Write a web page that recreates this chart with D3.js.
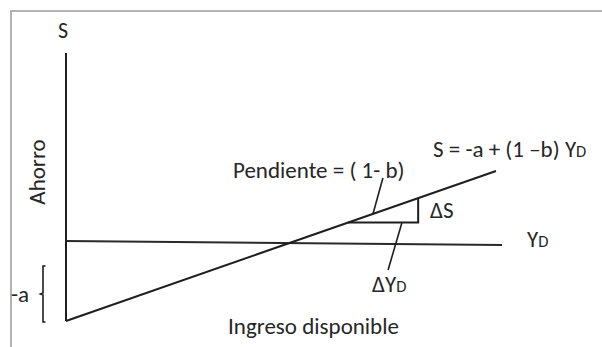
<!DOCTYPE html>
<html>
<head>
<meta charset="utf-8">
<script src="https://cdn.jsdelivr.net/npm/d3@7"></script>
<style>
  html, body { margin: 0; padding: 0; background: #fff; }
  svg { display: block; }
  text { font-family: Carlito, Lato, "Open Sans", sans-serif; fill: #262626; }
</style>
</head>
<body>
<svg id="chart" width="602" height="347"></svg>
<script>
// ---- data (economic units) ----
const incomeDomain = [0, 10];
const savingDomain = [-2, 4.7];
const interceptA = -2;          // -a
const slope = 0.375;            // (1 - b)
const savingLineX = [0, 10];    // S = -a + (1-b) YD
const zeroLinePts = [[0, 0], [10.14, -0.1]];
const triangleX = [6.56, 8.19];
const pendientePointer = [[7.14, 0.68], [7.37, 1.575]];
const deltaYPointer = [[7.81, 0.45], [7.49, -0.725]];
const labels = {
  yAxis: "S",
  yTitle: "Ahorro",
  xTitle: "Ingreso disponible",
  minusA: "-a",
  slopeLabel: "Pendiente = ( 1- b)",
  equation: ["S = -a + (1 \u2013b) Y", "D"],
  deltaS: "\u0394S",
  deltaY: ["\u0394Y", "D"],
  yd: ["Y", "D"]
};

const svg = d3.select("#chart");
const x = d3.scaleLinear().domain(incomeDomain).range([66, 496]);
const y = d3.scaleLinear().domain(savingDomain).range([321, 53]);
const S = v => interceptA + slope * v;

// frame (grey border)
svg.append("path")
  .attr("d", "M11,360 L11,11 L620,11")
  .attr("fill", "none").attr("stroke", "#b3b3b3").attr("stroke-width", 2);

const line = d3.line().x(d => x(d[0])).y(d => y(d[1]));
const ink = "#1e1e1e";

// vertical axis
svg.append("path").attr("d", line([[0, interceptA], [0, savingDomain[1]]]))
  .attr("stroke", ink).attr("stroke-width", 2).attr("fill", "none");
// zero line
svg.append("path").attr("d", line(zeroLinePts))
  .attr("stroke", "#2a2a2a").attr("stroke-width", 2).attr("fill", "none");
// saving function
svg.append("path").attr("d", line(savingLineX.map(v => [v, S(v)])))
  .attr("stroke", ink).attr("stroke-width", 2).attr("fill", "none");
// slope triangle
const [t0, t1] = triangleX;
svg.append("path").attr("d", line([[t0, S(t0)], [t1, S(t0)], [t1, S(t1)]]))
  .attr("stroke", ink).attr("stroke-width", 2).attr("fill", "none");
// pointers
[pendientePointer, deltaYPointer].forEach(p =>
  svg.append("path").attr("d", line(p))
    .attr("stroke", ink).attr("stroke-width", 1.6).attr("fill", "none"));

// brace for -a
const bx = x(0) - 23, yt = y(0) + 25, yb = y(interceptA) + 1, ym = (yt + yb) / 2;
svg.append("path")
  .attr("d", `M${bx+2.5},${yt} L${bx},${yt} L${bx},${ym-1} L${bx-2.5},${ym} L${bx},${ym+1} L${bx},${yb} L${bx+2.5},${yb}`)
  .attr("fill", "none").attr("stroke", ink).attr("stroke-width", 1.6);

// text
const fs = 23;
svg.append("text").attr("x", x(0) - 3).attr("y", 38).attr("text-anchor", "middle")
  .attr("font-size", 22).text(labels.yAxis);
svg.append("text").attr("transform", `translate(45,172) rotate(-90)`)
  .attr("text-anchor", "middle").attr("font-size", fs).text(labels.yTitle);
svg.append("text").attr("x", 11).attr("y", 302).attr("font-size", fs).text(labels.minusA);
svg.append("text").attr("x", 228).attr("y", 334).attr("font-size", fs).text(labels.xTitle);
svg.append("text").attr("x", 233).attr("y", 178).attr("font-size", fs).text(labels.slopeLabel);

function sub(t, parts, size) {
  t.append("tspan").text(parts[0]);
  t.append("tspan").attr("font-size", size * 0.72).text(parts[1]);
}
sub(svg.append("text").attr("x", 433).attr("y", 157).attr("font-size", fs), labels.equation, fs);
svg.append("text").attr("x", 430).attr("y", 218).attr("font-size", fs).text(labels.deltaS);
sub(svg.append("text").attr("x", 527).attr("y", 247).attr("font-size", fs), labels.yd, fs);
sub(svg.append("text").attr("x", 372).attr("y", 292).attr("font-size", fs), labels.deltaY, fs);
</script>
</body>
</html>
